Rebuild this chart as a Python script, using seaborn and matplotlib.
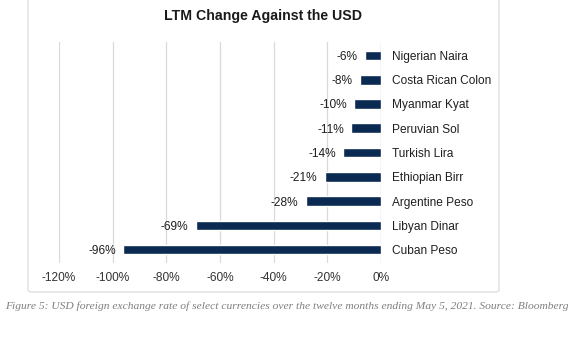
import matplotlib
matplotlib.use("Agg")
import matplotlib.pyplot as plt
import seaborn as sns
import pandas as pd
from matplotlib.patches import FancyBboxPatch

currencies = ["Nigerian Naira", "Costa Rican Colon", "Myanmar Kyat", "Peruvian Sol",
              "Turkish Lira", "Ethiopian Birr", "Argentine Peso", "Libyan Dinar", "Cuban Peso"]
changes = [-6, -8, -10, -11, -14, -21, -28, -69, -96]
xticks = [-120, -100, -80, -60, -40, -20, 0]

title = "LTM Change Against the USD"
caption = ("Figure 5: USD foreign exchange rate of select currencies over the twelve months "
           "ending May 5, 2021. Source: Bloomberg")

sns.set_style("white")
plt.rcParams["font.family"] = ["Liberation Sans", "DejaVu Sans"]

W, H = 574, 343
fig = plt.figure(figsize=(W / 100, H / 100), dpi=100)
ax = fig.add_axes([59 / W, 1 - 263 / H, (381 - 59) / W, (263 - 42) / H])

df = pd.DataFrame({"currency": currencies, "change": changes})
sns.barplot(data=df, x="change", y="currency", orient="h", color="#0b2a52",
            width=0.4, saturation=1, ax=ax)

ax.set_xlim(-120, 0)
ax.set_ylim(len(currencies) - 0.45, -0.55)
ax.set_xticks(xticks)
ax.set_xticklabels([f"{t}%" for t in xticks], fontsize=8.6, color="#333333")
ax.tick_params(axis="x", length=0, pad=6.5)
ax.yaxis.tick_right()
ax.tick_params(axis="y", length=0, pad=8, labelsize=8.6, labelcolor="#1f1f1f")
ax.set_xlabel("")
ax.set_ylabel("")
for s in ax.spines.values():
    s.set_visible(False)
ax.grid(axis="x", color="#d9d9d9", linewidth=0.9)
ax.set_axisbelow(True)
ax.axvline(0, color="#d9d9d9", linewidth=0.9, zorder=0)

for i, v in enumerate(changes):
    ax.text(v - 2.8, i, f"{v}%", ha="right", va="center_baseline", fontsize=8.6,
            color="#1f1f1f")

fig.text(263 / W, 1 - 16 / H, title, ha="center", va="center", fontsize=10.2,
         fontweight="bold", color="#1a1a1a")

box = FancyBboxPatch((28 / W, 1 - 292 / H), (499 - 28) / W, (292 + 5) / H,
                     boxstyle="round,pad=0,rounding_size=0.006",
                     transform=fig.transFigure, facecolor="none",
                     edgecolor="#dcdcdc", linewidth=0.9, zorder=-1)
fig.patches.append(box)

fig.text(5 / W, 1 - 306 / H, caption, ha="left", va="center", fontsize=8.25,
         family=["Liberation Serif", "DejaVu Serif"], style="italic", color="#7f7f7f")

fig.savefig("out.png", dpi=100)
